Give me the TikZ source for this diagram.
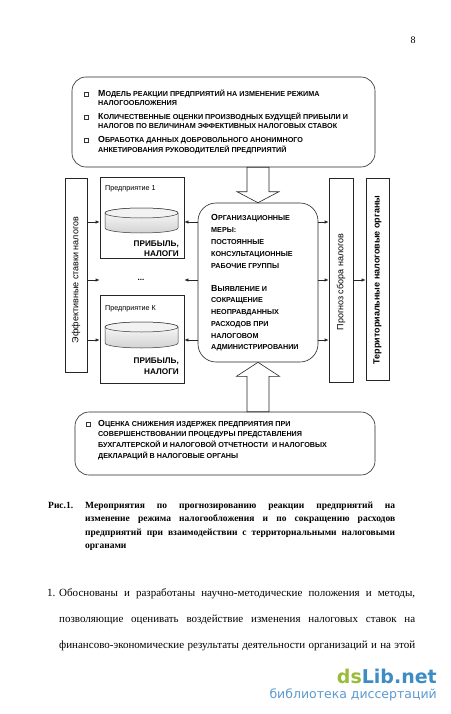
\documentclass[tikz,border=0pt]{standalone}
\usepackage{fontspec}
\setmainfont{Liberation Serif}
\setsansfont{Liberation Sans}
\newfontfamily\wmfont{DejaVu Sans}
\usetikzlibrary{arrows.meta,calc}
\definecolor{wmgreen}{HTML}{9BBB3B}
\definecolor{wmblue}{HTML}{3E8CC4}
\definecolor{wmlight}{HTML}{5C9AD0}
\newcommand\SCline[2]{{\fontsize{8.8}{9}\selectfont #1}{\fontsize{7.2}{9}\selectfont #2}}
\newcommand\SCrest[1]{{\fontsize{7.2}{9}\selectfont #1}}
\newcommand\drawcyl[3]{%
  \path[top color=white, bottom color=gray!35, draw=black!80, line width=0.5pt]
    (#1-36.5,#2) -- (#1-36.5,#3) arc[start angle=180,end angle=360,x radius=36.5,y radius=5]
    -- (#1+36.5,#2) arc[start angle=0,end angle=180,x radius=36.5,y radius=5] -- cycle;
  \draw[fill=gray!10, draw=black!80, line width=0.5pt] (#1,#2) ellipse[x radius=36.5,y radius=5];}
\begin{document}
\begin{tikzpicture}[x=1pt,y=1pt,
  box/.style={draw=black!85, line width=0.6pt, fill=white, inner sep=0pt},
  rbox/.style={box, rounded corners=14pt},
  txt/.style={inner sep=0pt, anchor=base west, font=\sffamily\bfseries},
  arr/.style={draw=black!85, line width=0.6pt, -{Latex[length=4pt,width=3.2pt]}},
  bul/.style={draw=black!80, line width=0.5pt, minimum size=3.6pt, inner sep=0pt},
  hollow/.style={draw=black!85, line width=0.6pt, fill=white, line join=miter},
  vtxt/.style={rotate=90, inner sep=0pt, font=\sffamily\fontsize{9}{10}\selectfont}]
\useasboundingbox[fill=white] (0,0) rectangle (450,-714);

\node[inner sep=0pt, font=\fontsize{10}{12}\selectfont] (pagenum) at (413,-40) {8};

% boxes
\node[rbox, minimum width=303, minimum height=90] (topbox) at (223.5,-122) {};
\node[rbox, minimum width=300, minimum height=63] (botbox) at (225,-443.5) {};
\node[box, rounded corners=18pt, minimum width=120, minimum height=159] (center) at (258,-282.5) {};
\node[box, minimum width=22, minimum height=194] (eff) at (76,-275) {};
\node[box, minimum width=84, minimum height=81] (box1) at (142,-217.5) {};
\node[box, minimum width=84, minimum height=88] (boxK) at (142,-339) {};
\node[box, minimum width=24, minimum height=204] (prog) at (341,-280) {};
\node[box, minimum width=23, minimum height=202] (terr) at (377.5,-279) {};

% hollow arrows
\draw[hollow] let \p1=(center.north), \p2=(topbox.south) in
  (\x1,\y1) -- (\x1-21,\y1+11) -- (\x1-11,\y1+11) -- (\x1-11,\y2) -- (\x1+11,\y2) -- (\x1+11,\y1+11) -- (\x1+21,\y1+11) -- cycle;
\draw[hollow] let \p1=(center.south), \p2=(botbox.north) in
  (\x1,\y1) -- (\x1-21.5,\y1-14) -- (\x1-11,\y1-14) -- (\x1-11,\y2) -- (\x1+11,\y2) -- (\x1+11,\y1-14) -- (\x1+21.5,\y1-14) -- cycle;

% top box text
\node[bul] (tb1) at (86,-94) {};
\node[bul] (tb2) at (86,-117) {};
\node[bul] (tb3) at (86,-140) {};
\node[txt] (t1) at (98,-96.5) {\SCline{М}{ОДЕЛЬ РЕАКЦИИ ПРЕДПРИЯТИЙ НА ИЗМЕНЕНИЕ РЕЖИМА}};
\node[txt] (t2) at (98,-105.5) {\SCrest{НАЛОГООБЛОЖЕНИЯ}};
\node[txt] (t3) at (98,-119.5) {\SCline{К}{ОЛИЧЕСТВЕННЫЕ ОЦЕНКИ ПРОИЗВОДНЫХ БУДУЩЕЙ ПРИБЫЛИ И}};
\node[txt] (t4) at (98,-128.5) {\SCrest{НАЛОГОВ ПО ВЕЛИЧИНАМ ЭФФЕКТИВНЫХ НАЛОГОВЫХ СТАВОК}};
\node[txt] (t5) at (98,-142.5) {\SCline{О}{БРАБОТКА ДАННЫХ ДОБРОВОЛЬНОГО АНОНИМНОГО}};
\node[txt] (t6) at (98,-152.5) {\SCrest{АНКЕТИРОВАНИЯ РУКОВОДИТЕЛЕЙ ПРЕДПРИЯТИЙ}};

% center box text
\node[txt] (c1) at (211,-220.5) {\SCline{О}{РГАНИЗАЦИОННЫЕ}};
\node[txt] (c2) at (211,-232.5) {\SCrest{МЕРЫ:}};
\node[txt] (c3) at (211,-244.5) {\SCrest{ПОСТОЯННЫЕ}};
\node[txt] (c4) at (211,-256.5) {\SCrest{КОНСУЛЬТАЦИОННЫЕ}};
\node[txt] (c5) at (211,-268.5) {\SCrest{РАБОЧИЕ ГРУППЫ}};
\node[txt] (c6) at (211,-291.5) {\SCline{В}{ЫЯВЛЕНИЕ И}};
\node[txt] (c7) at (211,-302.5) {\SCrest{СОКРАЩЕНИЕ}};
\node[txt] (c8) at (211,-314.5) {\SCrest{НЕОПРАВДАННЫХ}};
\node[txt] (c9) at (211,-326.5) {\SCrest{РАСХОДОВ ПРИ}};
\node[txt] (c10) at (211,-338.5) {\SCrest{НАЛОГОВОМ}};
\node[txt] (c11) at (211,-349.5) {\SCrest{АДМИНИСТРИРОВАНИИ}};

% bottom box text
\node[bul] (bb1) at (88,-424) {};
\node[txt] (b1) at (98,-426.5) {\SCline{О}{ЦЕНКА СНИЖЕНИЯ ИЗДЕРЖЕК ПРЕДПРИЯТИЯ ПРИ}};
\node[txt] (b2) at (98,-436.5) {\SCrest{СОВЕРШЕНСТВОВАНИИ ПРОЦЕДУРЫ ПРЕДСТАВЛЕНИЯ}};
\node[txt] (b3) at (98,-447.5) {\SCrest{БУХГАЛТЕРСКОЙ И НАЛОГОВОЙ ОТЧЕТНОСТИ \ И НАЛОГОВЫХ}};
\node[txt] (b4) at (98,-458.5) {\SCrest{ДЕКЛАРАЦИЙ В НАЛОГОВЫЕ ОРГАНЫ}};

% enterprise boxes
\node[inner sep=0pt, anchor=base west, font=\sffamily\fontsize{7.2}{8}\selectfont] (p1) at (105,-190.5) {Предприятие 1};
\drawcyl{141.5}{-213}{-228}
\node[inner sep=0pt, anchor=base east, font=\sffamily\bfseries\fontsize{8.2}{9}\selectfont] (pr1a) at (179,-246) {ПРИБЫЛЬ,};
\node[inner sep=0pt, anchor=base east, font=\sffamily\bfseries\fontsize{8.2}{9}\selectfont] (pr1b) at (179,-256.5) {НАЛОГИ};
\node[inner sep=0pt, font=\sffamily\bfseries\fontsize{8}{9}\selectfont] (dots) at (141,-280) {...};
\node[inner sep=0pt, anchor=base west, font=\sffamily\fontsize{7.2}{8}\selectfont] (pK) at (105,-310.5) {Предприятие К};
\drawcyl{141.5}{-327}{-343}
\node[inner sep=0pt, anchor=base east, font=\sffamily\bfseries\fontsize{8.2}{9}\selectfont] (prKa) at (179,-363) {ПРИБЫЛЬ,};
\node[inner sep=0pt, anchor=base east, font=\sffamily\bfseries\fontsize{8.2}{9}\selectfont] (prKb) at (179,-374) {НАЛОГИ};

% vertical texts
\node[vtxt] (efft) at (76,-280) {Эффективные ставки налогов};
\node[vtxt] (progt) at (341,-282) {Прогноз сбора налогов};
\node[vtxt, font=\sffamily\bfseries\fontsize{9}{10}\selectfont] (terrt) at (377.5,-280) {Территориальные налоговые органы};

% connectors
\coordinate (r1) at (0,-222);
\coordinate (r2) at (0,-280);
\coordinate (r3) at (0,-340);
\draw[arr] (eff.east |- r1) -- (box1.west |- r1);
\draw[arr] (eff.east |- r2) -- (box1.west |- r2);
\draw[arr] (eff.east |- r3) -- (boxK.west |- r3);
\draw[arr] (center.west |- r1) -- (box1.east |- r1);
\draw[arr] (center.west |- r2) -- (box1.east |- r2);
\draw[arr] (center.west |- r3) -- (boxK.east |- r3);
\draw[arr] (center.east |- r1) -- (prog.west |- r1);
\draw[arr] (center.east |- r2) -- (prog.west |- r2);
\draw[arr] (center.east |- r3) -- (prog.west |- r3);
\draw[arr] (prog.east |- r2) -- (terr.west |- r2);

% caption
\node[anchor=base west, inner sep=0pt] (cap) at (48,-508) {\parbox[t]{347pt}{\fontsize{9.5}{13.5}\selectfont\bfseries\tolerance=9999\hyphenpenalty=10000\hangindent=37pt\hangafter=1\noindent\makebox[37pt][l]{Рис.1.}Мероприятия по прогнозированию реакции предприятий на\linebreak изменение режима налогообложения и по сокращению расходов\linebreak предприятий при взаимодействии с территориальными налоговыми\linebreak органами}};

% body text
\node[anchor=base west, inner sep=0pt] (body) at (47,-596) {\parbox[t]{368pt}{\fontsize{11}{26}\selectfont\tolerance=9999\hyphenpenalty=10000\exhyphenpenalty=10000\hangindent=12pt\hangafter=1\noindent\makebox[12pt][l]{1.}Обоснованы и разработаны научно-методические положения и методы,\linebreak позволяющие оценивать воздействие изменения налоговых ставок на\linebreak финансово-экономические результаты деятельности организаций и на этой\parfillskip=0pt\par}};

% watermark
\node[anchor=base east, inner sep=0pt, font=\wmfont\bfseries\fontsize{19}{20}\selectfont] (wm1) at (437,-683) {\textcolor{wmgreen}{ds}\textcolor{wmblue}{Lib.net}};
\node[anchor=base east, inner sep=0pt, text=wmlight, font=\wmfont\fontsize{12.5}{13}\selectfont] (wm2) at (437,-698) {библиотека диссертаций};
\end{tikzpicture}
\end{document}
